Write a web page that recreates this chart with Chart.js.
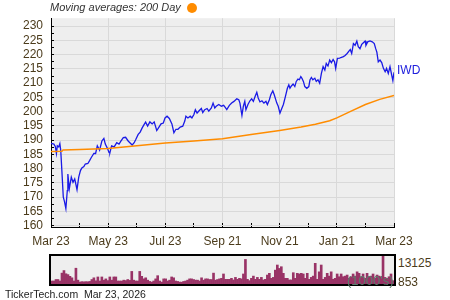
<!DOCTYPE html>
<html>
<head>
<meta charset="utf-8">
<script src="https://cdn.jsdelivr.net/npm/chart.js@4"></script>
<style>
  body { margin: 0; background: #fff; font-family: "Liberation Sans", Arial, sans-serif; }
  #wrap { position: relative; width: 450px; height: 300px; overflow: hidden; }
  #title { position: absolute; left: 50px; top: 1px; font-size: 11px; font-style: italic; color: #333; white-space: nowrap; }
  #dot { position: absolute; left: 187px; top: 3px; width: 10px; height: 10px; border-radius: 50%; background: #ff8c00; }
  #main { position: absolute; left: 0; top: 0; }
  #volbox { position: absolute; left: 49px; top: 254px; width: 343px; height: 28px; border: 2px solid #000; background: #eee; }
  #vol { display: block; }
  .vlab { position: absolute; left: 398px; font-size: 12px; color: #4b3b1b; }
  #units { position: absolute; left: 347px; top: 273px; font-size: 13px; color: #5a7d6d; }
  #footer { position: absolute; left: 5px; top: 288px; font-size: 10.5px; color: #222; white-space: pre; }
</style>
</head>
<body>
<div id="wrap">
  <canvas id="main" width="450" height="250"></canvas>
  <div id="title">Moving averages: 200 Day</div>
  <div id="dot"></div>
  <div id="volbox"><canvas id="vol" width="343" height="28"></canvas></div>
  <div class="vlab" id="volHi" style="top:256px"></div>
  <div class="vlab" id="volLo" style="top:275px"></div>
  <div id="units">(1000's)</div>
  <div id="footer">TickerTech.com  Mar 23, 2026</div>
</div>
<script>
const ticker = 'IWD';
const monthLabels = ['Mar 23', 'May 23', 'Jul 23', 'Sep 21', 'Nov 21', 'Jan 21', 'Mar 23'];
const yTickFirst = 160;
const yTickLast = 230;

// price: x in months from start, y close
const priceMonth = [0,0.10,0.15,0.19,0.22,0.27,0.31,0.34,0.38,0.43,
  0.47,0.52,0.57,0.59,0.64,0.71,0.77,0.83,0.91,0.97,
  1.03,1.08,1.15,1.20,1.29,1.35,1.41,1.50,1.56,1.62,
  1.70,1.78,1.85,1.90,1.97,2.03,2.06,2.12,2.21,2.30,
  2.38,2.45,2.53,2.61,2.70,2.76,2.84,2.91,2.97,3.05,
  3.12,3.19,3.26,3.31,3.38,3.46,3.54,3.61,3.70,3.75,
  3.85,3.93,3.99,4.06,4.14,4.23,4.30,4.37,4.44,4.52,
  4.61,4.68,4.72,4.79,4.87,4.93,5.00,5.05,5.11,5.19,
  5.26,5.31,5.38,5.46,5.52,5.61,5.67,5.73,5.78,5.87,
  5.96,6.04,6.09,6.15,6.24,6.32,6.40,6.50,6.57,6.61,
  6.68,6.73,6.78,6.82,6.89,6.96,7.02,7.08,7.14,7.20,
  7.25,7.31,7.38,7.45,7.52,7.57,7.64,7.69,7.76,7.81,
  7.90,7.95,8.01,8.07,8.13,8.20,8.27,8.32,8.36,8.41,
  8.47,8.53,8.58,8.64,8.69,8.74,8.78,8.83,8.88,8.95,
  9.02,9.06,9.11,9.16,9.23,9.28,9.34,9.40,9.46,9.52,
  9.58,9.63,9.69,9.75,9.81,9.87,9.92,9.96,10.02,10.10,
  10.14,10.23,10.29,10.36,10.43,10.47,10.52,10.58,10.64,10.70,
  10.75,10.81,10.87,10.93,10.99,11.02,11.08,11.16,11.24,11.31,
  11.36,11.40,11.45,11.51,11.57,11.63,11.69,11.74,11.80,11.86,
  11.92,11.96,12.00];
const priceClose = [188.9,188.6,187.8,185.3,188.0,187.6,188.8,186.5,179.3,170.0,
  168.5,166.0,172.3,178.1,172.9,177.0,175.2,176.4,172.6,177.0,
  179.3,180.2,180.7,181.6,181.8,182.8,183.9,185.3,185.3,188.0,
  186.5,189.7,190.6,188.6,187.2,185.7,185.6,188.0,187.6,189.1,
  188.6,189.7,190.9,191.0,189.7,189.1,188.3,189.1,190.3,192.0,
  192.8,194.3,195.5,196.3,194.9,196.4,195.7,196.4,193.4,194.1,
  195.7,196.0,197.8,198.4,197.6,195.7,192.6,193.8,193.8,194.6,
  194.9,196.7,198.4,197.8,198.4,197.8,199.0,200.7,199.5,200.4,
  201.1,199.7,200.7,201.1,200.2,201.3,203.0,201.3,201.9,202.5,
  201.9,202.2,201.6,200.7,202.2,203.0,203.6,204.5,204.2,203.0,
  198.7,201.9,203.6,200.7,202.5,203.8,204.5,203.6,205.3,206.8,
  204.8,203.4,203.8,203.0,203.6,202.5,204.2,205.9,207.3,205.9,
  203.0,201.9,199.5,201.0,202.5,205.3,208.2,209.4,208.2,209.0,
  209.7,208.8,210.6,211.4,211.2,212.3,211.7,210.6,208.8,208.2,
  208.8,211.1,212.0,211.2,211.7,210.6,211.2,210.0,213.4,215.8,
  214.6,216.9,216.0,218.1,217.2,218.3,217.5,215.2,218.7,218.8,
  219.0,219.3,219.7,220.4,221.3,221.8,220.4,223.9,223.3,224.8,
  222.8,222.1,223.6,224.2,224.8,223.3,224.5,224.8,224.5,223.9,
  222.1,220.9,217.5,218.1,217.2,215.2,214.0,215.2,213.4,215.8,
  212.8,210.9,213.8];

// 200 day moving average
const maMonth = [0, 0.38, 0.42, 1, 2, 3, 4, 5, 6, 7, 8, 8.75, 9.25, 9.75, 10.0, 10.5, 11.0, 11.5, 12];
const ma200 = [186.0, 186.1, 186.5, 186.7, 187.1, 188.0, 189.0, 189.7, 190.5, 192.0, 193.4, 194.6, 195.6, 196.8, 197.8, 200.2, 202.5, 204.3, 205.7];

// volume in 1000's
const volume = [1400,1400,2100,2100,1400,5100,6300,4800,4400,3600,
  2900,1400,7400,1800,900,1100,1000,1100,1050,1200,
  2100,2900,1500,3300,1400,3300,1800,2400,1600,3300,
  1800,3300,3300,1400,1400,1400,1800,1600,2100,1700,
  5900,1800,1400,1400,5900,3600,2400,2900,1800,1200,
  900,1400,2400,3900,1400,900,2400,2400,1400,1800,
  3300,2900,1400,1200,900,853,1200,1400,1800,2400,
  2400,2100,1800,1800,1400,2900,1800,2400,2400,2100,
  2100,5100,1800,2100,2400,2650,4700,2200,2200,2200,
  2650,1900,3100,2200,2650,2400,4700,11500,2200,1560,
  2650,3700,2200,3100,2200,3100,1900,2200,4200,5000,
  2650,3100,6500,8900,7300,8100,5000,2650,2650,1900,
  1900,5300,2650,5000,4700,5000,4700,2650,5000,2200,
  3100,3700,9700,2200,5700,8900,2200,3100,5000,3700,
  5700,2200,2650,4700,3400,4700,3400,3700,4200,2650,
  3400,4700,3700,5700,5000,3400,4700,2650,5000,3400,
  3700,4700,2650,4200,3700,3400,13125,3100,2650,3400,
  4700,1560];

Chart.defaults.font.family = '"Liberation Sans", Arial, sans-serif';
Chart.defaults.font.size = 12;

const axisText = '#4b3b1b';
const gridGray = '#d9d9d9';

const plotBg = {
  id: 'plotBg',
  beforeDraw(chart) {
    const a = chart.chartArea;
    const c = chart.ctx;
    c.save();
    c.fillStyle = '#eeeeee';
    c.fillRect(a.left, a.top, a.right - a.left, a.bottom - a.top);
    c.restore();
  }
};

// ticker name beside the last close
const lastLabel = {
  id: 'lastLabel',
  afterDatasetsDraw(chart) {
    const meta = chart.getDatasetMeta(1);
    const pt = meta.data[meta.data.length - 1];
    const c = chart.ctx;
    c.save();
    c.font = '12px "Liberation Sans", Arial, sans-serif';
    c.fillStyle = '#2020dd';
    c.textBaseline = 'middle';
    c.fillText(ticker, chart.chartArea.right + 3, pt.y - 2);
    c.restore();
  }
};

new Chart(document.getElementById('main'), {
  type: 'line',
  data: {
    datasets: [
      {
        label: '200 Day',
        data: maMonth.map((m, i) => ({ x: m, y: ma200[i] })),
        borderColor: '#ff8c00',
        borderWidth: 1.5,
        pointRadius: 0
      },
      {
        label: ticker,
        data: priceMonth.map((m, i) => ({ x: m, y: priceClose[i] })),
        borderColor: '#1a1ae6',
        borderWidth: 1.3,
        pointRadius: 0
      }
    ]
  },
  options: {
    responsive: false,
    animation: false,
    layout: { padding: { left: 0, right: 56, top: 16, bottom: 0 } },
    plugins: { legend: { display: false }, tooltip: { enabled: false } },
    scales: {
      x: {
        type: 'linear',
        min: 0,
        max: 12,
        afterFit(s) { s.height = 23; },
        ticks: {
          stepSize: 1,
          autoSkip: false,
          maxRotation: 0,
          padding: 11,
          color: axisText,
          callback: v => (v % 2 === 0 ? monthLabels[v / 2] : '')
        },
        grid: {
          color: c => (c.tick && c.tick.value % 2 === 0 ? gridGray : 'rgba(0,0,0,0)'),
          tickColor: '#000',
          tickLength: -4
        },
        border: { color: '#000', width: 1 }
      },
      y: {
        min: 159.5,
        max: 232.8,
        afterFit(s) { s.width = 51; },
        afterBuildTicks(s) {
          const t = [];
          for (let v = yTickFirst; v <= yTickLast; v += 2.5) t.push({ value: v });
          s.ticks = t;
        },
        ticks: {
          autoSkip: false,
          padding: 11,
          color: axisText,
          callback: v => (v % 5 === 0 ? v : '')
        },
        grid: {
          color: c => (c.tick && c.tick.value % 5 === 0 ? gridGray : 'rgba(0,0,0,0)'),
          tickColor: '#000',
          tickLength: -3
        },
        border: { color: '#000', width: 1 }
      }
    }
  },
  plugins: [plotBg, lastLabel]
});

const volMax = Math.max(...volume);
const volMin = Math.min(...volume);
document.getElementById('volHi').textContent = volMax;
document.getElementById('volLo').textContent = volMin;

new Chart(document.getElementById('vol'), {
  type: 'bar',
  data: {
    labels: volume.map((v, i) => i),
    datasets: [{
      data: volume,
      backgroundColor: '#993366',
      barPercentage: 1,
      categoryPercentage: 1
    }]
  },
  options: {
    responsive: false,
    animation: false,
    layout: { padding: 0 },
    plugins: { legend: { display: false }, tooltip: { enabled: false } },
    scales: {
      x: { display: false },
      y: { display: false, min: 0, max: volMax }
    }
  }
});
</script>
</body>
</html>
